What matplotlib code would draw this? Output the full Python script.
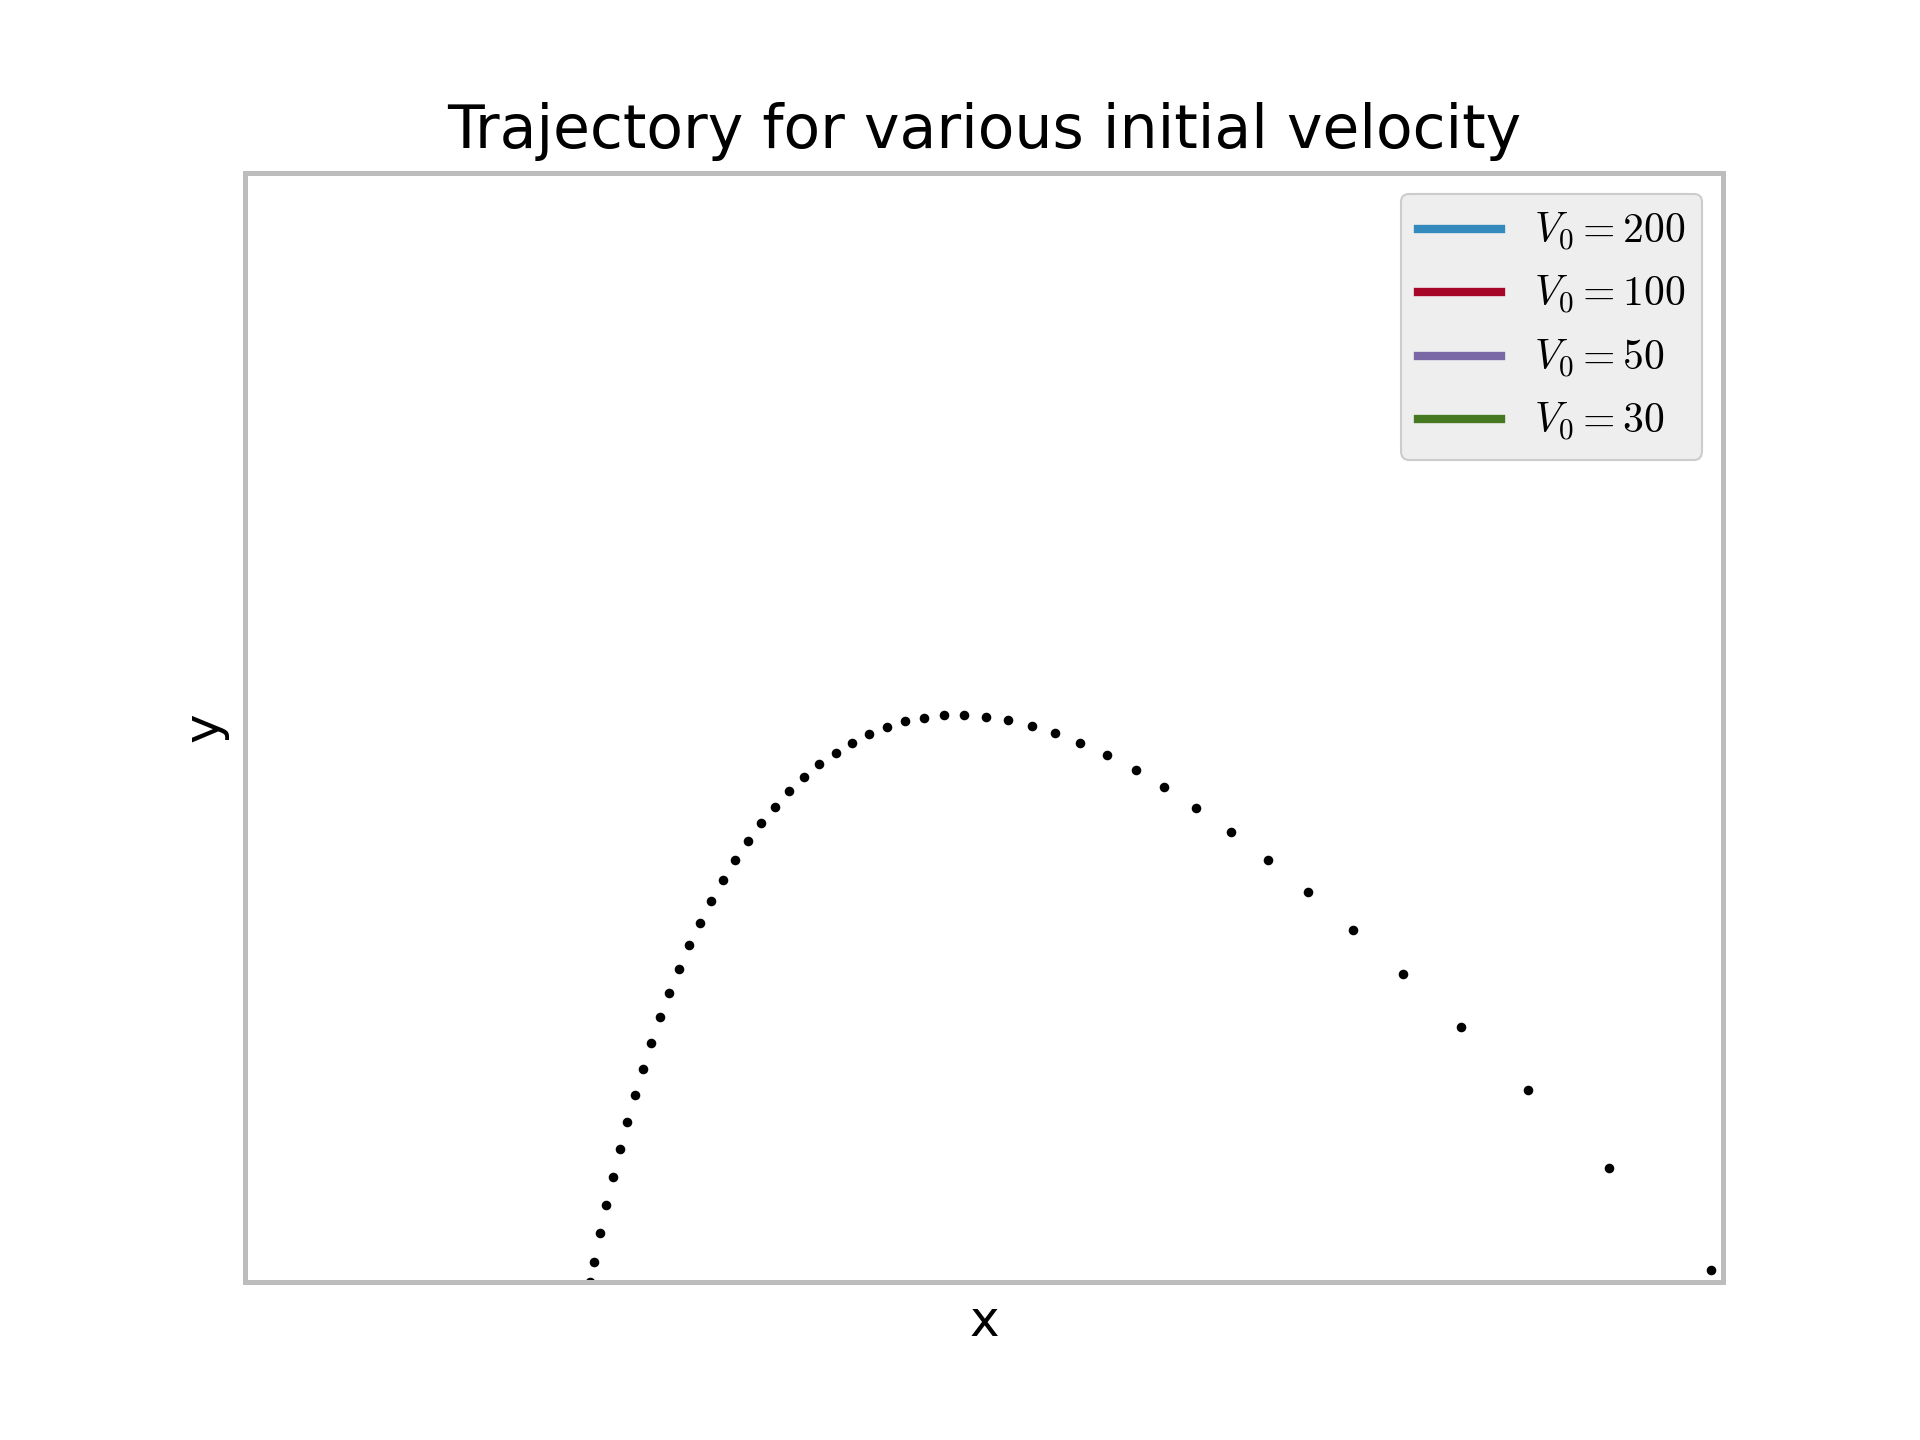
import matplotlib
matplotlib.use("Agg")
import matplotlib.pyplot as plt

# velocidades iniciales de la leyenda
velocidades = [200, 100, 50, 30]

# puntos de la trayectoria (fraccion de los ejes)
x_tray = [0.2336, 0.2363, 0.2404, 0.2445, 0.2492, 0.2539, 0.2587, 0.2641,
          0.2695, 0.2749, 0.2810, 0.2871, 0.2938, 0.3006, 0.3081, 0.3155,
          0.3236, 0.3317, 0.3405, 0.3493, 0.3588, 0.3683, 0.3780, 0.3884,
          0.3997, 0.4109, 0.4224, 0.4344, 0.4465, 0.4594, 0.4729, 0.4867,
          0.5016, 0.5164, 0.5323, 0.5482, 0.5652, 0.5834, 0.6026, 0.6220,
          0.6436, 0.6673, 0.6924, 0.7194, 0.7499, 0.7837, 0.8229, 0.8683,
          0.9231, 0.9919]
y_tray = [0.0000, 0.0174, 0.0436, 0.0688, 0.0941, 0.1193, 0.1437, 0.1680,
          0.1915, 0.2149, 0.2388, 0.2600, 0.2817, 0.3033, 0.3231, 0.3430,
          0.3619, 0.3800, 0.3971, 0.4133, 0.4278, 0.4422, 0.4548, 0.4665,
          0.4765, 0.4855, 0.4936, 0.4999, 0.5053, 0.5080, 0.5107, 0.5107,
          0.5089, 0.5062, 0.5008, 0.4945, 0.4855, 0.4747, 0.4611, 0.4458,
          0.4269, 0.4052, 0.3800, 0.3511, 0.3168, 0.2771, 0.2293, 0.1725,
          0.1022, 0.0105]

plt.style.use("bmh")

fig, ax = plt.subplots(figsize=(6.4, 4.8), dpi=300)
fig.subplots_adjust(left=0.1276, right=0.8974)
ax.set_facecolor("white")
ax.grid(False)

# lineas solo para la leyenda
for v in velocidades:
    ax.plot([], [], label=rf"$V_0={v}$")

ax.plot(x_tray, y_tray, linestyle="none", marker="o", color="k",
        markersize=1.8, markeredgewidth=0.5)

ax.set_xlim(0, 1)
ax.set_ylim(0, 1)
ax.set_xticks([])
ax.set_yticks([])
for sp in ax.spines.values():
    sp.set_linewidth(1.2)

ax.set_title("Trajectory for various initial velocity")
ax.set_xlabel("x")
ax.set_ylabel("y")
ax.legend(loc="upper right", framealpha=1.0)

fig.savefig("out.png", dpi=300)
